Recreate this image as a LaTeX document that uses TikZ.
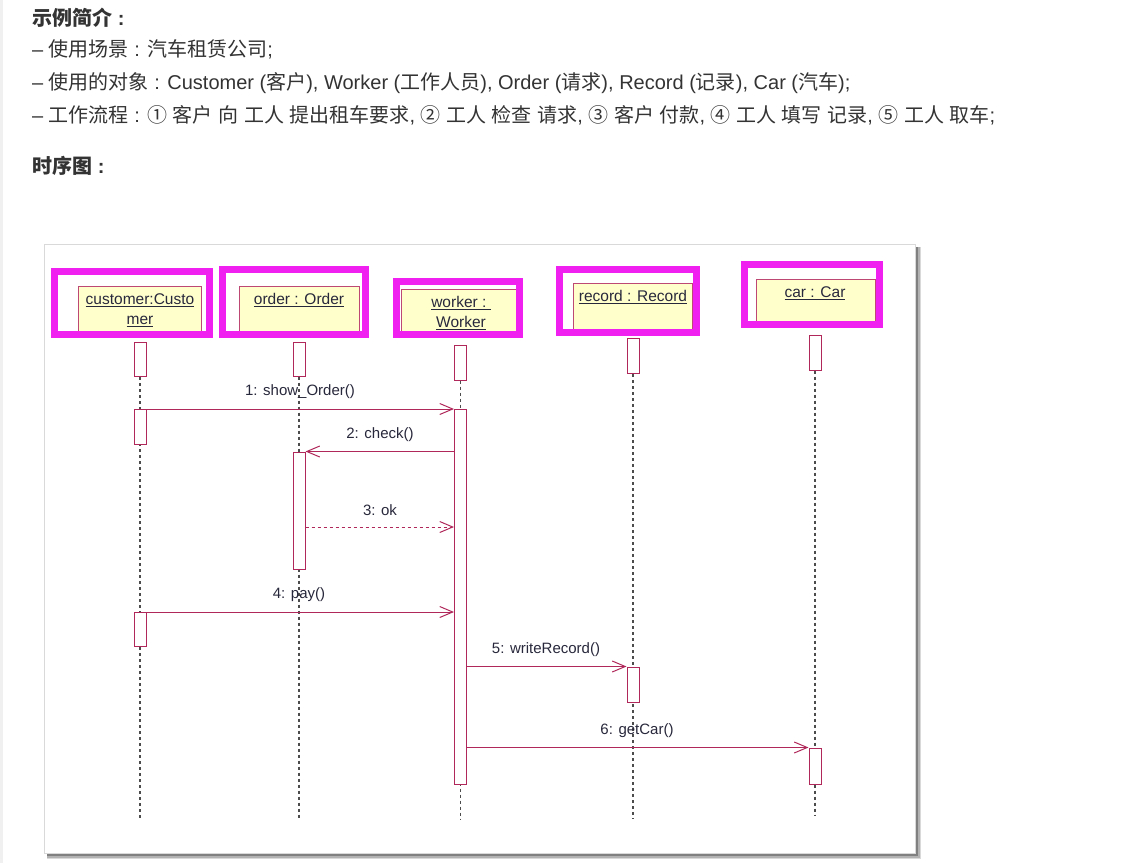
\documentclass[tikz,border=0pt]{standalone}
\usepackage{fontspec}
\setmainfont{Liberation Sans}
\newfontfamily\cjk{Noto Sans CJK SC}
\newcommand\zh[1]{{\cjk #1}}
\usetikzlibrary{arrows.meta,calc}
\definecolor{msg}{RGB}{176,40,90}
\definecolor{boxfill}{RGB}{255,255,204}
\definecolor{frame}{RGB}{240,32,240}
\definecolor{txt}{RGB}{51,51,51}
\definecolor{lbl}{RGB}{40,40,60}
\begin{document}
\begin{tikzpicture}[x=1pt,y=-1pt,
  toptext/.style={anchor=base west, inner sep=0, text=txt, font=\fontsize{20}{23}\selectfont},
  hdrbox/.style={draw=msg!85, fill=boxfill, line width=0.8pt},
  hlt/.style={draw=frame, line width=7pt},
  hdrtext/.style={inner sep=0, text=lbl, align=center, font=\fontsize{15.5}{20}\selectfont},
  actbox/.style={draw=msg, fill=white, line width=1pt, minimum width=12pt, inner sep=0},
  life/.style={draw=black!70, line width=1.1pt, dash pattern=on 3pt off 3pt},
  msgline/.style={draw=msg, line width=1pt, -{Straight Barb[length=13pt,width=11pt,line width=1pt]}},
  msglbl/.style={inner sep=0, text=lbl, font=\fontsize{15}{18}\selectfont}]
\useasboundingbox (0,0) rectangle (1125,863);
\fill[white] (0,0) rectangle (1125,863);
\fill[black!6] (0,0) rectangle (3,863);

% introductory text
\node[toptext, font=\fontsize{20}{23}\selectfont\bfseries] (t1) at (32,25.5) {\zh{\bfseries 示例简介} :};
\node[toptext] (t2) at (32,56.5) {– \zh{使用场景} : \zh{汽车租赁公司};};
\node[toptext] (t3) at (32,89.5) {– \zh{使用的对象} : Customer (\zh{客户}), Worker (\zh{工作人员}), Order (\zh{请求}), Record (\zh{记录}), Car (\zh{汽车});};
\node[toptext] (t4) at (32,122.5) {– \zh{工作流程} : \zh{①} \zh{客户} \zh{向} \zh{工人} \zh{提出租车要求}, \zh{②} \zh{工人} \zh{检查} \zh{请求}, \zh{③} \zh{客户} \zh{付款}, \zh{④} \zh{工人} \zh{填写} \zh{记录}, \zh{⑤} \zh{工人} \zh{取车};};
\node[toptext, font=\fontsize{20}{23}\selectfont\bfseries] (t5) at (32,173.5) {\zh{\bfseries 时序图} :};

% panel with shadow
\fill[black!15] (47,247) rectangle (921,859);
\fill[black!30] (47,247) rectangle (920,858);
\fill[black!50] (47,247) rectangle (918,856);
\fill[white, draw=black!15] (44,244) rectangle (915,853);

% header boxes
\draw[hdrbox] (78,286) rectangle (201,333);
\draw[hdrbox] (239,286) rectangle (359,333);
\draw[hdrbox] (401,289) rectangle (516,333);
\draw[hdrbox] (573,283) rectangle (692,333);
\draw[hdrbox] (756,279) rectangle (875,326);
\node[hdrtext] (hc) at (140,310) {\underline{customer:Custo}\\\underline{mer}};
\node[hdrtext] (ho) at (299,300) {\underline{order : Order}};
\node[hdrtext] (hw) at (461,313) {\underline{worker :\ }\\\underline{Worker}};
\node[hdrtext] (hr) at (633,297) {\underline{record : Record}};
\node[hdrtext] (hk) at (815,293) {\underline{car : Car}};

% lifeline end points
\coordinate (cE) at (140,818);
\coordinate (oE) at (299,818);
\coordinate (wE) at (460.5,820);
\coordinate (rE) at (633,819);
\coordinate (kE) at (815,815);

% top activation boxes
\node[actbox, minimum height=34pt] (c0) at (140,359.5) {};
\node[actbox, minimum height=34pt] (o0) at (299,359) {};
\node[actbox, minimum height=35pt] (w0) at (460.5,362.5) {};
\node[actbox, minimum height=35pt] (r0) at (633,356) {};
\node[actbox, minimum height=35pt] (k0) at (815,352.5) {};

% lifelines
\draw[life] (c0.south) -- (cE);
\draw[life] (o0.south) -- (oE);
\draw[life] (w0.south) -- (wE);
\draw[life] (r0.south) -- (rE);
\draw[life] (k0.south) -- (kE);

% activations
\node[actbox, minimum height=35pt] (c1) at (140,427) {};
\node[actbox, minimum height=34pt] (c2) at (140,629.5) {};
\node[actbox, minimum height=117pt] (o1) at (299,510.5) {};
\node[actbox, minimum height=375pt] (w1) at (460.5,596.5) {};
\node[actbox, minimum height=35pt] (r1) at (633,684.5) {};
\node[actbox, minimum height=36pt] (k1) at (815,766) {};

% messages
\coordinate (y3) at (0,527);
\draw[msgline] (c1.north east) -- (w1.west |- c1.north);
\draw[msgline] (w1.west |- o1.north) -- (o1.north east);
\draw[msgline, dashed] (o1.east |- y3) -- (w1.west |- y3);
\draw[msgline] (c2.north east) -- (w1.west |- c2.north);
\draw[msgline] (w1.east |- r1.north) -- (r1.north west);
\draw[msgline] (w1.east |- k1.north) -- (k1.north west);

\node[msglbl] (l1) at (300,392) {1: show\_Order()};
\node[msglbl] (l2) at (380,435) {2: check()};
\node[msglbl] (l3) at (380,510) {3: ok};
\node[msglbl] (l4) at (299,595) {4: pay()};
\node[msglbl] (l5) at (546,650) {5: writeRecord()};
\node[msglbl] (l6) at (637,731) {6: getCar()};

% highlight frames
\draw[hlt] (54.5,271.5) rectangle (209.5,334.5);
\draw[hlt] (222.5,269.5) rectangle (365.5,334.5);
\draw[hlt] (396.5,281.5) rectangle (519.5,334.5);
\draw[hlt] (559.5,269.5) rectangle (696.5,332.5);
\draw[hlt] (744.5,264.5) rectangle (879.5,324.5);
\end{tikzpicture}
\end{document}
